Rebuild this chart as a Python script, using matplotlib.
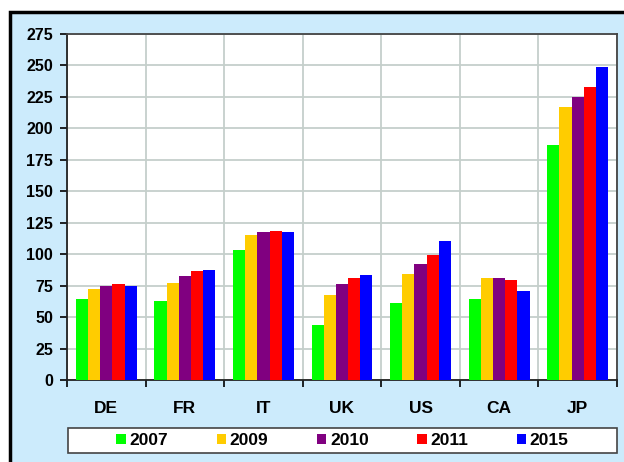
import matplotlib
matplotlib.use('Agg')
import matplotlib.pyplot as plt
from matplotlib.patches import Rectangle
import numpy as np

plt.rcParams['font.family'] = ['Liberation Sans', 'DejaVu Sans']

# ── data ──────────────────────────────────────────
countries = ['DE', 'FR', 'IT', 'UK', 'US', 'CA', 'JP']
years = ['2007', '2009', '2010', '2011', '2015']
v2007 = [64, 63, 103, 43.5, 61, 64.5, 187]
v2009 = [72, 77, 115, 67.5, 84, 81, 217]
v2010 = [75, 83, 118, 76, 92, 81, 225]
v2011 = [76, 86.5, 118.5, 81, 99, 79.5, 233]
v2015 = [75, 87.5, 118, 83.5, 110.5, 71, 249]
series = [v2007, v2009, v2010, v2011, v2015]
colors = ['#00FF00', '#FFCC00', '#800080', '#FF0000', '#0000FF']

BG = '#CCEBFC'
GRID = '#C5CFCB'

fig = plt.figure(figsize=(6.24, 4.62), dpi=100)
fig.patch.set_facecolor('white')
# light blue chart area, black border only visible on top/left
fig.patches.append(Rectangle((10 / 624, -0.1), 1.2, 1.1 - 12 / 462,
                             transform=fig.transFigure, facecolor=BG,
                             edgecolor='black', linewidth=2.5, zorder=-5))
# legend box
fig.patches.append(Rectangle((68 / 624, 1 - 453 / 462), 549 / 624, 25 / 462,
                             transform=fig.transFigure, facecolor='white',
                             edgecolor='#444444', linewidth=1.2, zorder=-4))

ax = fig.add_axes([67 / 624, 1 - 380 / 462, 550 / 624, 346 / 462])
ax.set_facecolor('white')

x = np.arange(len(countries))
w = 0.155
for i, (vals, c, yr) in enumerate(zip(series, colors, years)):
    ax.bar(x + (i - 2) * w, vals, width=w, color=c, label=yr, zorder=3)

ax.set_xlim(-0.5, len(countries) - 0.5)
ax.set_ylim(0, 275)
ax.set_yticks(range(0, 276, 25))
ax.set_yticklabels([str(v) for v in range(0, 276, 25)],
                   fontsize=11.5, fontweight='bold')
ax.set_xticks(np.arange(-0.5, len(countries), 1))
ax.set_xticklabels([])
ax.set_xticks(x, minor=True)
ax.set_xticklabels(countries, minor=True, fontsize=12.5, fontweight='bold')
ax.tick_params(axis='x', which='minor', length=0, pad=15)
ax.tick_params(axis='x', which='major', length=5, width=1.2, direction='out')
ax.tick_params(axis='y', length=5, width=1.2, direction='out', pad=5)

ax.grid(True, which='major', color=GRID, linewidth=1.3, zorder=0)
ax.set_axisbelow(True)
for s in ['left', 'bottom']:
    ax.spines[s].set_color('#222222')
    ax.spines[s].set_linewidth(1.3)
for s in ['top', 'right']:
    ax.spines[s].set_color('#444444')
    ax.spines[s].set_linewidth(1.3)

leg = fig.legend(loc='center', bbox_to_anchor=(68 / 624, 1 - 453 / 462, 549 / 624, 25 / 462),
                 ncol=5, frameon=False,
                 prop={'weight': 'bold', 'size': 12.5}, handlelength=0.55,
                 handleheight=0.55, handletextpad=0.2, borderpad=0.25,
                 columnspacing=2.8)

fig.savefig('out.png', dpi=100, facecolor=fig.get_facecolor())
